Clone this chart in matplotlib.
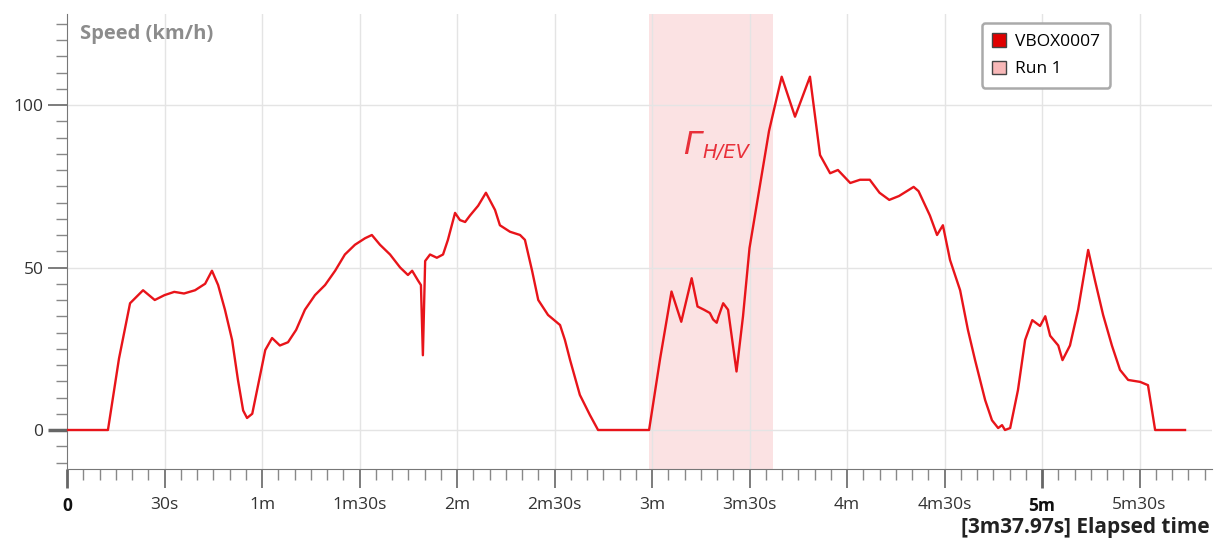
import matplotlib
matplotlib.use("Agg")
import matplotlib.pyplot as plt
from matplotlib.patches import Rectangle
from matplotlib.ticker import MultipleLocator, FixedLocator

plt.rcParams['font.family'] = ['Open Sans', 'DejaVu Sans']

# Elapsed time (s) and speed (km/h)
time_s = [0, 12.6, 16, 19.4, 23.4, 27, 30, 33, 36, 39.4, 42.5, 44.6, 46.5, 48.6, 50.8, 52.6, 54.2, 55.4,
          57, 58.8, 61, 63.1, 65.5, 68, 70.5, 73.2, 76.3, 79.4, 82.5, 85.5, 88.6, 91.7, 93.8, 96.3, 99.4,
          102.5, 104.9, 106.2, 108, 108.9, 109.5, 110.2, 111.7, 113.8, 115.7, 117.2, 119.4, 120.9, 122.5,
          124, 126.5, 128.9, 131.7, 133.2, 136.3, 139.4, 140.9, 143.1, 145, 148, 151.7, 153.2, 154.8,
          157.8, 160.9, 163.4, 179.1, 182.5, 186, 189, 192.2, 194, 196, 197.8, 198.8, 199.9, 200.5,
          201.9, 203.4, 206, 208, 210, 213, 216, 219.9, 224, 228.6, 231.7, 234.8, 237.2, 241, 244, 247,
          250, 253, 256, 260.5, 262, 265.5, 267.7, 269.5, 271.7, 274.8, 277.2, 279.4, 282.5, 284.6,
          286.5, 287.7, 288.6, 290.2, 292.6, 294.8, 297, 299.4, 301, 302.5, 305, 306.3, 308.6, 311.1,
          314.2, 316.3, 318.8, 321.5, 324, 326.5, 330.2, 332.6, 334.8, 344]
speed_kmh = [0, 0, 22, 39, 43, 40, 41.5, 42.5, 42, 43, 45, 49, 44.6, 37, 27.7, 15.4, 6, 3.7,
             5, 13.8, 24.6, 28.3, 26, 27, 30.8, 37, 41.5, 44.6, 49, 54, 57, 59, 60, 57, 54,
             50, 47.7, 49, 46, 44.6, 23, 52, 54, 53, 54, 58.5, 66.8, 64.6, 64,
             66, 69, 73, 67.7, 63, 61, 60, 58.5, 49, 40, 35.4, 32.3, 27.7, 21.5,
             10.8, 4.6, 0, 0, 22, 42.6, 33.3, 46.7, 38, 37, 36, 34, 33, 35,
             39, 37, 18, 35, 56, 74, 92, 108.7, 96.4, 108.7, 84.6, 79, 80, 76, 77, 77,
             73, 70.8, 72, 74.8, 73.5, 66, 60, 63, 52.3, 43, 30.8, 21.5, 9.2, 3,
             0.6, 1.5, 0, 0.6, 12.3, 27.7, 33.8, 32, 35, 29, 26, 21.5, 26, 37,
             55.4, 46, 35.4, 26, 18.5, 15.4, 14.8, 13.8, 0, 0]

run_start, run_end = 179.1, 217.2
x_major = [0, 30, 60, 90, 120, 150, 180, 210, 240, 270, 300, 330]
x_labels = ['0', '30s', '1m', '1m30s', '2m', '2m30s', '3m', '3m30s', '4m', '4m30s', '5m', '5m30s']
y_major = [0, 50, 100]
y_labels = ['0', '50', '100']
legend_labels = ['VBOX0007', 'Run 1']

W, H = 1215, 539
fig = plt.figure(figsize=(W / 100, H / 100), dpi=100)
x0, x1, ytop, ybot = 67, 1212, 14, 469
ax = fig.add_axes([x0 / W, 1 - ybot / H, (x1 - x0) / W, (ybot - ytop) / H])

ax.set_xlim(0, 352.3)
ax.set_ylim(-12, 128)

ax.axvspan(run_start, run_end, color='#fbe2e3', zorder=0, lw=0)
for xv in x_major[1:]:
    ax.axvline(xv, color='#e4e4e4', lw=1, zorder=0.5)
for yv in y_major:
    ax.axhline(yv, color='#e4e4e4', lw=1, zorder=0.5)

ax.plot(time_s, speed_kmh, color='#e8141a', lw=1.7, zorder=3)

for s in ['top', 'right']:
    ax.spines[s].set_visible(False)
ax.spines['left'].set_color('#777777')
ax.spines['bottom'].set_color('#777777')

ax.xaxis.set_major_locator(FixedLocator(x_major))
ax.set_xticklabels(x_labels)
ax.xaxis.set_minor_locator(MultipleLocator(5))
ax.yaxis.set_major_locator(FixedLocator(y_major))
ax.set_yticklabels(y_labels)
ax.yaxis.set_minor_locator(MultipleLocator(5))
ax.tick_params(axis='x', which='major', length=14, width=1.2, color='#666666', labelsize=12.5, pad=6, labelcolor='#333333')
ax.tick_params(axis='x', which='minor', length=8, width=1, color='#888888')
ax.tick_params(axis='y', which='major', length=14, width=1.2, color='#666666', labelsize=12.5, pad=3, labelcolor='#333333')
ax.tick_params(axis='y', which='minor', length=8, width=1, color='#888888')
for lbl in ax.get_xticklabels():
    if lbl.get_text() in ('0', '5m'):
        lbl.set_fontweight('bold')
        lbl.set_color('#111111')
yl = ax.yaxis.get_major_ticks()[0]
yl.tick1line.set_color('#111111')
yl.tick1line.set_markeredgewidth(2.5)
xl = ax.xaxis.get_major_ticks()[0]
xl.tick1line.set_color('#222222')
xl.tick1line.set_markeredgewidth(2)
ax.xaxis.get_major_ticks()[10].tick1line.set_color('#222222')
ax.xaxis.get_major_ticks()[10].tick1line.set_markeredgewidth(2)

fig.text(80 / W, 1 - 34 / H, 'Speed (km/h)', color='#8c8c8c', fontsize=14.5, fontweight='bold', va='center', ha='left')
fig.text(683 / W, 1 - 145 / H, 'Γ', color='#e8303a', fontsize=23, fontstyle='italic', va='center', ha='left',
         family=['DejaVu Sans'])
fig.text(702 / W, 1 - 152 / H, 'H/EV', color='#e8303a', fontsize=14, fontstyle='italic', va='center', ha='left',
         family=['DejaVu Sans'])
fig.text(1210 / W, 1 - 527 / H, '[3m37.97s] Elapsed time', color='#222222', fontsize=15, fontweight='bold', va='center', ha='right')

h1 = Rectangle((0, 0), 1, 1, facecolor='#e00000', edgecolor='#444444', lw=1)
h2 = Rectangle((0, 0), 1, 1, facecolor='#f8b8b8', edgecolor='#444444', lw=1)
leg = ax.legend([h1, h2], legend_labels, loc='upper right',
                bbox_to_anchor=((1110 - x0) / (x1 - x0), (ybot - 23) / (ybot - ytop)),
                frameon=True, fancybox=True, fontsize=12.5, handlelength=0.8, handleheight=0.8, handletextpad=0.5,
                borderpad=0.6, labelspacing=0.6, borderaxespad=0)
leg.get_frame().set_edgecolor('#aaaaaa')
leg.get_frame().set_linewidth(1.8)
leg.get_frame().set_alpha(1)

fig.savefig('out.png', dpi=100)
